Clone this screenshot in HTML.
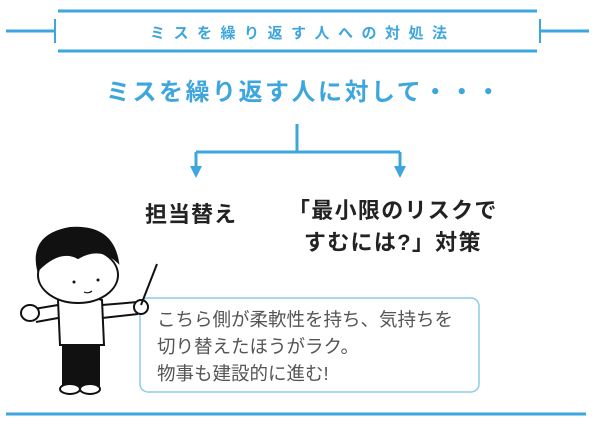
<!DOCTYPE html>
<html><head><meta charset="utf-8"><style>
body{margin:0;width:600px;height:424px;background:#fff;position:relative;overflow:hidden;font-family:"Liberation Sans","Noto Sans CJK JP",sans-serif}
.a{position:absolute;white-space:nowrap}
</style></head><body>
<svg class="a" style="left:0;top:0" width="600" height="424">
<g stroke="#3ea6de" stroke-width="3" fill="none">
<line x1="58" y1="11" x2="537" y2="11"/>
<line x1="58" y1="51" x2="537" y2="51"/>
<line x1="55" y1="19" x2="55" y2="43" stroke-width="2"/>
<line x1="540" y1="19" x2="540" y2="43" stroke-width="2"/>
<line x1="6" y1="31" x2="55" y2="31"/>
<line x1="540" y1="31" x2="589" y2="31"/>
<line x1="297" y1="124" x2="297" y2="152"/>
<line x1="196" y1="152" x2="400" y2="152"/>
<line x1="196" y1="152" x2="196" y2="168"/>
<line x1="400" y1="152" x2="400" y2="168"/>
<line x1="6" y1="414" x2="586" y2="414"/>
</g>
<polygon points="190,166 202,166 196,178" fill="#3ea6de"/>
<polygon points="394,166 406,166 400,178" fill="#3ea6de"/>
<rect x="140" y="298" width="339" height="94" rx="8" fill="#fff" stroke="#8ccbe8" stroke-width="1.5"/>
<g stroke="#111" stroke-width="2" fill="#fff">
<rect x="63" y="340" width="36" height="46" fill="#111"/>
<ellipse cx="70" cy="389" rx="10" ry="5"/>
<ellipse cx="90" cy="389" rx="10" ry="5"/>
<path d="M58 300 Q80 292 102 300 L104 345 L60 345 Z"/>
<path d="M58 305 L28 310 M58 318 L36 322"/>
<path d="M102 305 L138 302 M102 318 L138 314"/>
<ellipse cx="30" cy="313" rx="9" ry="8"/>
<circle cx="141" cy="307" r="7"/>
<line x1="141" y1="305" x2="157" y2="264"/>
<ellipse cx="78" cy="275" rx="40" ry="28"/>
<path d="M38 270 Q30 235 70 228 Q112 225 118 262 Q100 245 78 258 Q60 248 38 270 Z" fill="#111"/>
</g>
<circle cx="74" cy="282" r="1.5" fill="#111"/><circle cx="98" cy="280" r="1.5" fill="#111"/>
<path d="M84 292 Q88 294 92 291" stroke="#111" fill="none" stroke-width="1.2"/>
</svg>
<div class="a" style="left:150px;top:22px;font-size:15px;font-weight:bold;color:#3ea6de;letter-spacing:8.5px">ミスを繰り返す人への対処法</div>
<div class="a" style="left:106px;top:72px;font-size:24px;font-weight:bold;color:#3ea6de;letter-spacing:2.5px">ミスを繰り返す人に対して・・・</div>
<div class="a" style="left:145px;top:197px;font-size:22px;font-weight:bold;color:#222;letter-spacing:1px">担当替え</div>
<div class="a" style="left:288px;top:195px;font-size:22px;font-weight:bold;color:#222;letter-spacing:1.3px;line-height:32px;text-align:center">「最小限のリスクで<br>すむには?」対策</div>
<div class="a" style="left:157px;top:306px;font-size:18.5px;color:#555;line-height:27px">こちら側が柔軟性を持ち、気持ちを<br>切り替えたほうがラク。<br>物事も建設的に進む!</div>
</body></html>
